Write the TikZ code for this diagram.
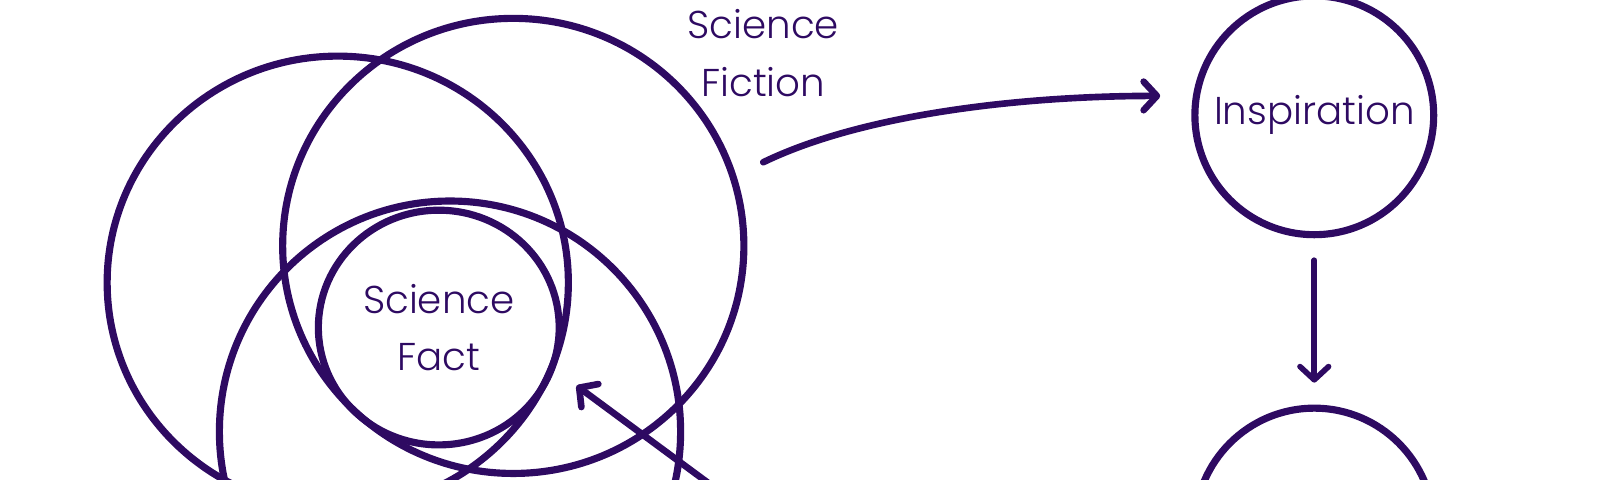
\documentclass[tikz,border=0pt]{standalone}
\usepackage{fontspec}
\setmainfont{Poppins}[UprightFont=* Light]
\usepackage{xcolor}
\usepackage{tikz}
\usetikzlibrary{positioning, calc, shapes.geometric, arrows.meta}
\definecolor{deeppurple}{RGB}{46,10,98}

\begin{document}
\begin{tikzpicture}[
        x=1pt, y=1pt,
        every node/.style={font=\fontsize{38}{56}\selectfont, text=deeppurple},
        ring/.style={ellipse, draw=deeppurple, line width=7pt, inner sep=0pt, outer sep=0pt},
        bubble/.style={circle, draw=deeppurple, line width=7pt, inner sep=0pt, outer sep=0pt, minimum size=234pt, align=center},
        label/.style={align=center},
        arrow/.style={-{Straight Barb[length=13pt, width=28pt, round]}, line width=6.5pt, line cap=round, deeppurple}
    ]
        \clip (0,0) rectangle (1568,470);

        % Fiction rings
        \node[ring, minimum width=452pt, minimum height=444pt] (ringL) at (331,193) {};
        \node[ring, minimum width=452pt, minimum height=446pt] (ringR) at (503,229) {};
        \node[ring, minimum width=452pt, minimum height=452pt] (ringB) at (441,47) {};
        \node[ring, minimum width=236pt, minimum height=230pt, align=center] (fact) at (430,149) {Science\\Fact};
        \node[label] (fiction) at (748,418) {Science\\Fiction};

        % Right column
        \node[bubble] (insp) at (1288,357) {Inspiration};
        \node[bubble] (next) at (1288,-47) {};
        \coordinate (src) at (760,-52);
        \coordinate (start) at (748,311);

        % Connections
        \draw[arrow] (start) .. controls (845,358) and (1000,376) .. (1137,376);
        \draw[arrow, line width=5.5pt, shorten <=25pt, shorten >=25pt] (insp) -- (next);
        \draw[arrow] (src) -- (565,92) coordinate (back);

\end{tikzpicture}
\end{document}
